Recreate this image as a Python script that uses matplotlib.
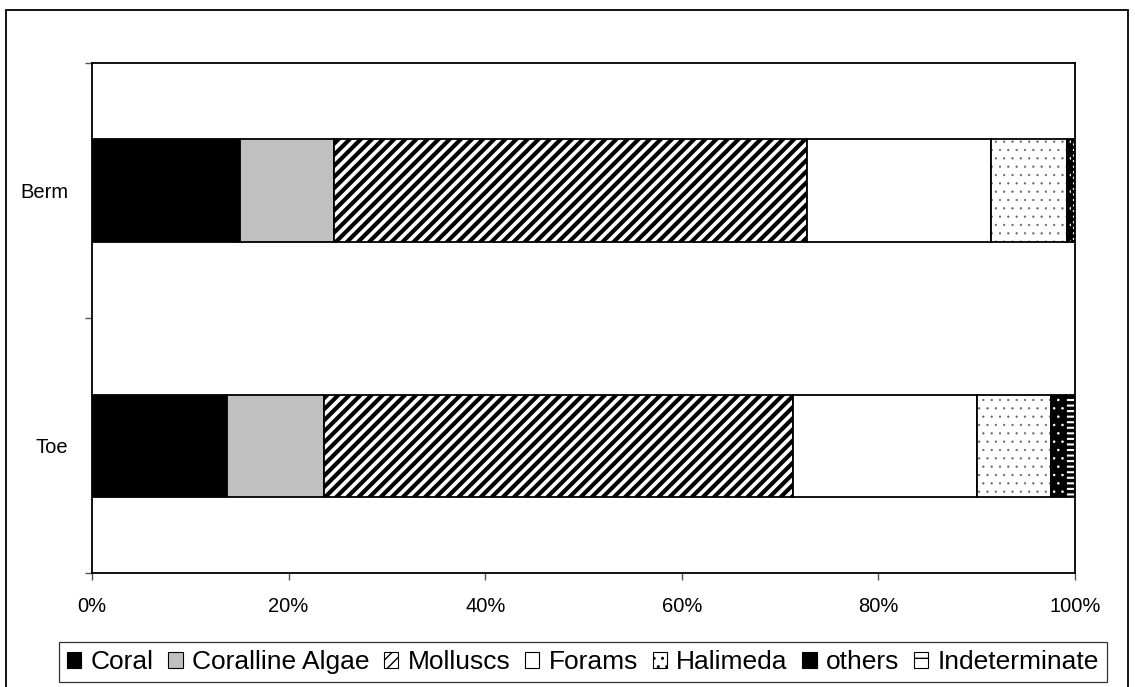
import numpy as np
import matplotlib
matplotlib.use("Agg")
import matplotlib.pyplot as plt
from matplotlib.patches import Rectangle, Patch

plt.rcParams["font.family"] = ["Liberation Sans", "DejaVu Sans"]

# sample sites (bottom to top) and component shares in percent
sites = ["Toe", "Berm"]
components = ["Coral", "Coralline Algae", "Molluscs", "Forams",
              "Halimeda", "others", "Indeterminate"]
coral = [13.7, 15.1]
coralline = [9.9, 9.5]
molluscs = [47.7, 48.1]
forams = [18.7, 18.8]
halimeda = [7.6, 7.7]
others = [1.5, 0.5]
indeterminate = [0.9, 0.3]

series = [coral, coralline, molluscs, forams, halimeda, others, indeterminate]
# (face, hatch, hatch colour, hatch line width)
styles = [
    ("black", None, "black", 1.0),
    ("#c0c0c0", None, "black", 1.0),
    ("white", "///", "black", 3.0),
    ("white", None, "black", 1.0),
    ("white", "..", "#666666", 0.4),
    ("black", "..", "white", 0.6),
    ("white", "---", "black", 2.5),
]

fig = plt.figure(figsize=(11.35, 6.87), dpi=100)
ax = fig.add_axes([92 / 1135, 1 - 573 / 687, 983 / 1135, 510 / 687])

vals = np.array(series, dtype=float)
vals = vals / vals.sum(axis=0) * 100
y = np.arange(len(sites))
left = np.zeros(len(sites))
for v, (fc, hatch, hc, hlw) in zip(vals, styles):
    plt.rcParams["hatch.linewidth"] = hlw
    # hatch layer, then a black outline on top
    ax.barh(y, v, left=left, height=0.4, color=fc, hatch=hatch,
            edgecolor=hc, linewidth=0)
    ax.barh(y, v, left=left, height=0.4, fill=False,
            edgecolor="black", linewidth=1.3)
    left += v

ax.set_xlim(0, 100)
ax.set_ylim(-0.5, 1.5)
ax.set_xticks(np.arange(0, 101, 20))
ax.set_xticklabels([f"{t}%" for t in range(0, 101, 20)], fontsize=14.5)
ax.set_yticks([-0.5, 0.5, 1.5])
ax.set_yticklabels([])
ax.set_yticks(y, minor=True)
ax.set_yticklabels(sites, minor=True, fontsize=14.5)
ax.tick_params(axis="y", which="minor", length=0, pad=17)
ax.tick_params(axis="both", which="major", length=5, width=1, color="#555555",
               pad=12)
for s in ax.spines.values():
    s.set_linewidth(1.3)

# legend swatches
handles = []
for fc, hatch, hc, hlw in styles:
    plt.rcParams["hatch.linewidth"] = min(hlw, 1.2)
    handles.append(Patch(facecolor=fc, hatch=hatch, edgecolor="black",
                         linewidth=0.8))
plt.rcParams["hatch.linewidth"] = 1.0
handles[5] = Patch(facecolor="black", edgecolor="black", linewidth=0.8)
handles[6] = Patch(facecolor="white", hatch="-", edgecolor="black",
                   linewidth=0.8)

leg = fig.legend(handles, components, loc="center",
                 bbox_to_anchor=(583 / 1135, 1 - 662 / 687), ncol=7,
                 fontsize=19, frameon=True, fancybox=False,
                 edgecolor="black", handlelength=0.55, handleheight=0.55,
                 handletextpad=0.35, columnspacing=0.55, borderpad=0.3,
                 borderaxespad=0)
leg.get_frame().set_linewidth(0.9)

# outer chart border
fig.patches.append(Rectangle((6 / 1135, -0.01), 1122 / 1135, 1.01 - 10 / 687,
                             transform=fig.transFigure, fill=False,
                             edgecolor="black", linewidth=1.3))

fig.savefig("out.png", dpi=100)
